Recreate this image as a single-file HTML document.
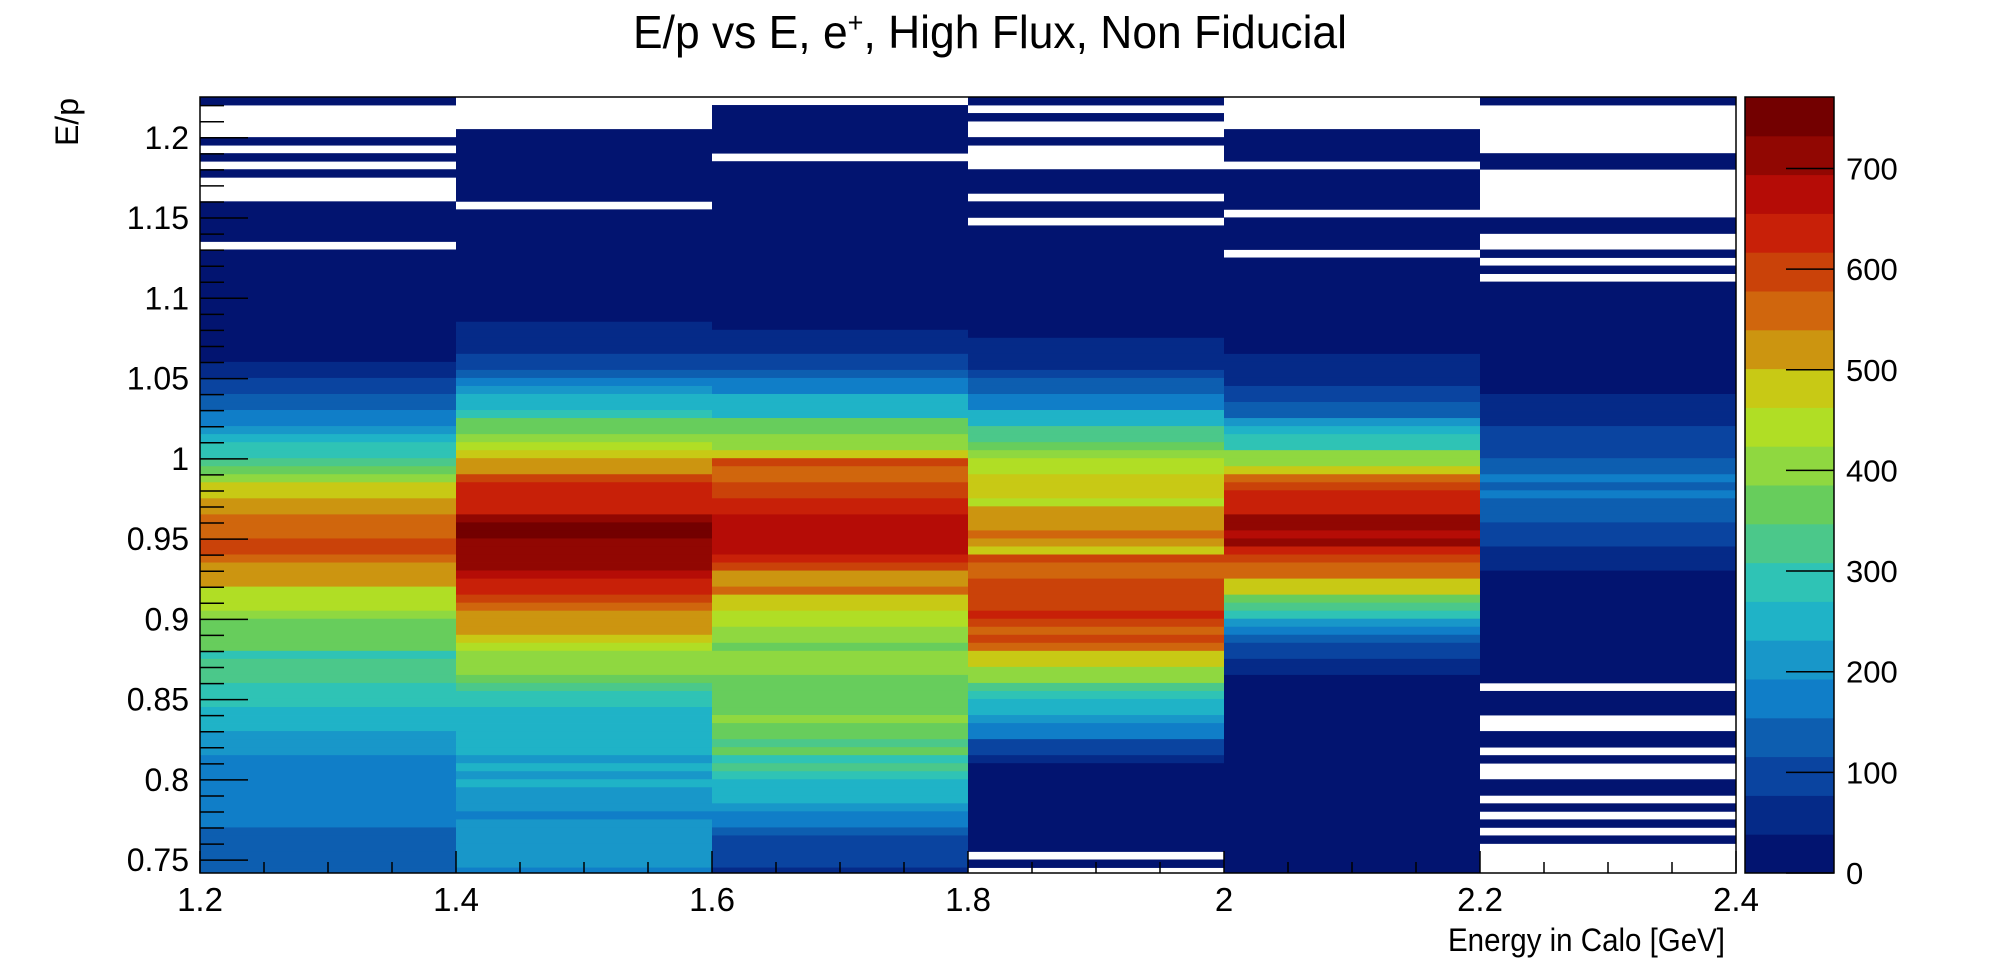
<!DOCTYPE html>
<html><head><meta charset="utf-8">
<style>
html,body{margin:0;padding:0;background:#fff;}
svg{display:block;font-family:"Liberation Sans",Arial,sans-serif;}
</style></head>
<body>
<svg id="chart" width="1996" height="972" viewBox="0 0 1996 972" xmlns="http://www.w3.org/2000/svg">
<defs><clipPath id="plotclip"><rect x="200" y="97" width="1536" height="776"/></clipPath></defs>
<rect x="0" y="0" width="1996" height="972" fill="#fff"/>
<text x="990" y="48" font-size="46" text-anchor="middle" textLength="714" lengthAdjust="spacingAndGlyphs">E/p vs E, e<tspan dy="-16" font-size="28">+</tspan><tspan dy="16">, High Flux, Non Fiducial</tspan></text>
<g id="cells" clip-path="url(#plotclip)"></g>
<g id="palette"></g>
<g id="axes"></g>
<text x="1725" y="951" font-size="32" text-anchor="end" textLength="277" lengthAdjust="spacingAndGlyphs">Energy in Calo [GeV]</text>
<text transform="translate(78,98) rotate(-90)" font-size="32" text-anchor="end">E/p</text>
</svg>
<script>
// x bins (Energy in Calo, GeV)
const xEdges = [1.2, 1.4, 1.6, 1.8, 2.0, 2.2, 2.4];
// y bins: 97 bins of width 0.005, listed from highest E/p to lowest
const yTopEdge = 1.2254;
const yBinWidth = 0.005;
const xTicks = [1.2, 1.4, 1.6, 1.8, 2.0, 2.2, 2.4];
const xTickLabels = ["1.2","1.4","1.6","1.8","2","2.2","2.4"];
const yTicks = [0.75,0.8,0.85,0.9,0.95,1.0,1.05,1.1,1.15,1.2];
const yTickLabels = ["0.75","0.8","0.85","0.9","0.95","1","1.05","1.1","1.15","1.2"];
const zTicks = [0,100,200,300,400,500,600,700];
const zMax = 771;
const nLevels = 20;
const paletteColors = ["#021470","#052a88","#0a44a0","#0d5eb0","#107ec8","#1897c9","#1fb3c7","#2fc3b5","#4bc88a","#67cd5c","#8fd840","#b0de25","#c8c915","#cc9510","#d0660d","#ca4209","#c82008","#b50c06","#910702","#730000"];

const col1 = [15,0,0,0,0,15,0,15,0,15,0,0,0,15,15,15,15,15,0,15,15,15,15,15,15,15,15,15,15,15,15,15,15,58,58,96,96,135,135,173,173,212,251,289,289,328,366,405,482,482,521,521,559,559,559,598,598,559,521,521,521,444,444,444,405,366,366,366,366,289,328,328,328,289,289,289,251,251,251,212,212,212,173,173,173,173,173,173,173,173,173,135,135,135,135,135,135];
const col2 = [0,0,0,0,15,15,15,15,15,15,15,15,15,0,15,15,15,15,15,15,15,15,15,15,15,15,15,15,58,58,58,58,96,96,135,173,212,251,251,289,366,366,405,444,482,521,521,598,637,637,637,637,714,752,752,714,714,714,714,675,637,637,598,559,521,521,521,482,444,405,405,405,366,328,289,289,251,251,251,251,251,251,212,251,212,251,212,212,212,173,212,212,212,212,212,212,173];
const col3 = [0,15,15,15,15,15,15,0,15,15,15,15,15,15,15,15,15,15,15,15,15,15,15,15,15,15,15,15,15,58,58,58,96,96,135,173,173,251,251,251,366,366,405,405,500,598,559,559,598,598,637,637,656,675,675,675,656,637,598,521,521,540,482,482,444,444,405,405,366,405,405,405,366,366,366,366,366,405,366,366,328,366,289,328,289,251,251,251,212,173,173,135,96,96,96,96,58];
const col4 = [15,0,15,0,0,15,0,0,0,15,15,15,0,15,15,0,15,15,15,15,15,15,15,15,15,15,15,15,15,15,58,58,58,77,96,135,135,173,173,251,251,328,328,366,405,444,444,482,482,482,444,521,521,521,559,521,482,598,559,559,598,598,598,598,617,598,559,598,559,482,482,405,405,328,289,251,251,212,173,173,96,96,58,15,15,15,15,15,15,15,15,15,15,15,0,15,0];
const col5 = [0,0,0,0,15,15,15,15,0,15,15,15,15,15,0,15,15,15,15,0,15,15,15,15,15,15,15,15,15,15,15,15,58,58,58,77,96,96,135,135,193,251,289,289,405,405,482,559,598,637,637,637,714,714,675,714,637,598,559,559,482,482,366,328,289,212,173,135,96,96,58,58,15,15,15,15,15,15,15,15,15,15,15,15,15,15,15,15,15,15,15,15,15,15,15,15,15];
const col6 = [15,0,0,0,0,0,0,15,15,0,0,0,0,0,0,15,15,0,0,15,0,15,0,15,15,15,15,15,15,15,15,15,15,15,15,15,15,58,58,58,58,96,96,96,96,135,135,173,135,173,135,135,135,96,96,96,58,58,58,30,15,15,15,15,15,15,15,15,15,15,15,15,15,0,15,15,15,0,0,15,15,0,15,0,0,15,15,0,15,0,15,0,15,0,0,0,0];
const columns = [col1, col2, col3, col4, col5, col6];

const NS = "http://www.w3.org/2000/svg";
const PX0 = 200, PX1 = 1736, PY0 = 97, PY1 = 873;
const xMin = 1.2, xMax = 2.4, yMin = 0.742, yMax = 1.2254;
function sx(v){ return PX0 + (v - xMin) / (xMax - xMin) * (PX1 - PX0); }
function sy(v){ return PY1 - (v - yMin) / (yMax - yMin) * (PY1 - PY0); }
function colorFor(c){ let l = Math.floor(c / zMax * nLevels); if (l > nLevels-1) l = nLevels-1; return paletteColors[l]; }
function mk(tag, attrs){ const e = document.createElementNS(NS, tag); for (const k in attrs) e.setAttribute(k, attrs[k]); return e; }

const cells = document.getElementById('cells');
columns.forEach((col, ci) => {
  col.forEach((c, k) => {
    if (c <= 0) return;
    const yHi = yTopEdge - k * yBinWidth, yLo = yHi - yBinWidth;
    const x0 = sx(xEdges[ci]), x1 = sx(xEdges[ci+1]);
    const y0 = sy(yHi), y1 = sy(yLo);
    const r = mk('rect', {x: x0, y: y0, width: x1 - x0, height: (y1 - y0) + 0.4, fill: colorFor(c)});
    
    
    cells.appendChild(r);
  });
});

// palette
const pal = document.getElementById('palette');
const CX0 = 1745, CX1 = 1834;
function sz(v){ return PY1 - v / zMax * (PY1 - PY0); }
paletteColors.forEach((col, i) => {
  const v0 = i * zMax / nLevels, v1 = (i+1) * zMax / nLevels;
  const r = mk('rect', {x: CX0, y: sz(v1), width: CX1 - CX0, height: sz(v0) - sz(v1) + 0.5, fill: col});
  
  
  pal.appendChild(r);
});
const pb = mk('rect', {x: CX0, y: PY0, width: CX1 - CX0, height: PY1 - PY0, fill: 'none', stroke: '#000', 'stroke-width': 1.5});


pal.appendChild(pb);
zTicks.forEach(v => {
  const y = sz(v);
  const t = mk('line', {x1: CX1 - 48, x2: CX1, y1: y, y2: y, stroke: '#000', 'stroke-width': 1.5});
  
  
  pal.appendChild(t);
  const lb = mk('text', {x: 1846, y: y + 11, 'font-size': 31});
  
  
  lb.textContent = String(v);
  pal.appendChild(lb);
});

// axes
const ax = document.getElementById('axes');
const fr = mk('rect', {x: PX0, y: PY0, width: PX1 - PX0, height: PY1 - PY0, fill: 'none', stroke: '#000', 'stroke-width': 1.5});


ax.appendChild(fr);
for (let i = 0; i <= 24; i++) {
  const v = 1.2 + i * 0.05; const x = sx(v);
  const major = (i % 4 === 0);
  const t = mk('line', {x1: x, x2: x, y1: PY1, y2: PY1 - (major ? 22 : 11), stroke: '#000', 'stroke-width': 1.5});
  
  
  ax.appendChild(t);
}
xTicks.forEach((v, i) => {
  const lb = mk('text', {x: sx(v), y: 911, 'font-size': 33, 'text-anchor': 'middle'});
  
  
  lb.textContent = xTickLabels[i];
  ax.appendChild(lb);
});
for (let i = 0; i <= 50; i++) {
  const v = 0.74 + i * 0.01; if (v < yMin || v > yMax) continue;
  const y = sy(v);
  const major = Math.abs((v * 100) % 5) < 1e-6 || Math.abs((v * 100) % 5 - 5) < 1e-6;
  const t = mk('line', {x1: PX0, x2: PX0 + (major ? 48 : 24), y1: y, y2: y, stroke: '#000', 'stroke-width': 1.5});
  
  
  ax.appendChild(t);
}
yTicks.forEach((v, i) => {
  const lb = mk('text', {x: 189, y: sy(v) + 11, 'font-size': 32, 'text-anchor': 'end'});
  
  
  lb.textContent = yTickLabels[i];
  ax.appendChild(lb);
});
</script>
</body></html>
